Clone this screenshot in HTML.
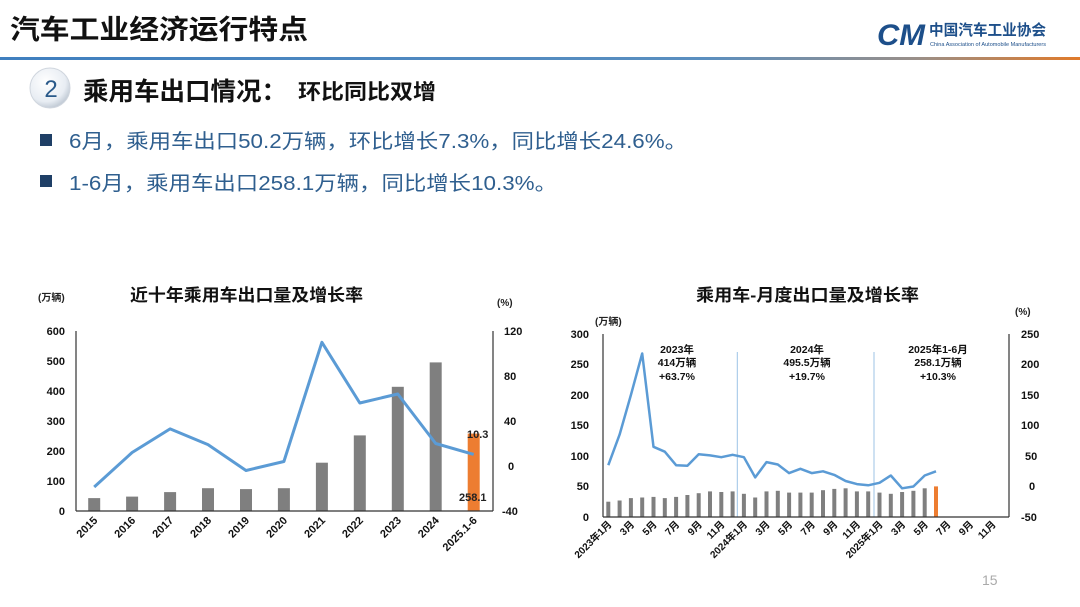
<!DOCTYPE html>
<html><head><meta charset="utf-8"><style>
html,body{margin:0;padding:0;background:#fff;}
svg{display:block;font-family:"Liberation Sans","Noto Sans CJK SC",sans-serif;}
</style></head><body>
<svg width="1080" height="607" viewBox="0 0 1080 607" xmlns="http://www.w3.org/2000/svg">
<defs>
<linearGradient id="hl" x1="0" x2="1" y1="0" y2="0">
<stop offset="0" stop-color="#3f7fbf"/><stop offset="0.65" stop-color="#5a8fc0"/><stop offset="0.85" stop-color="#9a8f88"/><stop offset="1" stop-color="#e07a2a"/></linearGradient>
<radialGradient id="cg" cx="0.4" cy="0.35" r="0.7"><stop offset="0" stop-color="#ffffff"/><stop offset="0.7" stop-color="#e8edf3"/><stop offset="1" stop-color="#b9c3cf"/></radialGradient>
</defs>
<rect width="1080" height="607" fill="#fff"/>
<text x="10" y="39" font-size="27" font-weight="bold" fill="#111" textLength="298" lengthAdjust="spacingAndGlyphs">汽车工业经济运行特点</text>
<text x="877" y="45" font-size="30" font-weight="bold" font-style="italic" fill="#1d4f8a" textLength="48" lengthAdjust="spacingAndGlyphs">CM</text>
<text x="929" y="35" font-size="15" font-weight="bold" fill="#1d4f8a" textLength="117" lengthAdjust="spacingAndGlyphs">中国汽车工业协会</text>
<text x="930" y="46" font-size="5" fill="#1d4f8a" textLength="116" lengthAdjust="spacingAndGlyphs">China Association of Automobile Manufacturers</text>
<rect x="0" y="57" width="1080" height="3" fill="url(#hl)"/>
<circle cx="50" cy="88" r="20" fill="url(#cg)" stroke="#d0d6de" stroke-width="1"/>
<text x="51" y="97" font-size="24" fill="#2a5a8a" text-anchor="middle">2</text>
<text x="83" y="100" font-size="25" font-weight="bold" fill="#111" textLength="204" lengthAdjust="spacingAndGlyphs">乘用车出口情况：</text>
<text x="298" y="99" font-size="21" font-weight="bold" fill="#111" textLength="138" lengthAdjust="spacingAndGlyphs">环比同比双增</text>
<rect x="40" y="134" width="12" height="12" fill="#1f3f66"/>
<text x="69" y="148" font-size="20" fill="#2f5f8f" textLength="618" lengthAdjust="spacingAndGlyphs">6月，乘用车出口50.2万辆，环比增长7.3%，同比增长24.6%。</text>
<rect x="40" y="175" width="12" height="12" fill="#1f3f66"/>
<text x="69" y="190" font-size="20" fill="#2f5f8f" textLength="488" lengthAdjust="spacingAndGlyphs">1-6月，乘用车出口258.1万辆，同比增长10.3%。</text>

<!-- LEFT CHART -->
<text x="130" y="301" font-size="17" font-weight="bold" fill="#111" textLength="233" lengthAdjust="spacingAndGlyphs">近十年乘用车出口量及增长率</text>
<text x="38" y="301" font-size="10" font-weight="bold" fill="#222">(万辆)</text>
<text x="497" y="306" font-size="10" font-weight="bold" fill="#222">(%)</text>
<g font-size="11" font-weight="bold" fill="#111" text-anchor="end">
<text x="65" y="335">600</text><text x="65" y="365">500</text><text x="65" y="395">400</text><text x="65" y="425">300</text><text x="65" y="455">200</text><text x="65" y="485">100</text><text x="65" y="515">0</text>
</g>
<g font-size="11" font-weight="bold" fill="#111" text-anchor="start">
<text x="504" y="335">120</text><text x="504" y="380">80</text><text x="504" y="425">40</text><text x="508" y="470">0</text><text x="502" y="515">-40</text>
</g>
<g fill="#7f7f7f">
<rect x="88.2" y="498.1" width="12" height="12.9"/>
<rect x="126.1" y="496.6" width="12" height="14.4"/>
<rect x="164.1" y="492.1" width="12" height="18.9"/>
<rect x="202" y="488.2" width="12" height="22.8"/>
<rect x="240" y="489.1" width="12" height="21.9"/>
<rect x="277.9" y="488.2" width="12" height="22.8"/>
<rect x="315.9" y="462.7" width="12" height="48.3"/>
<rect x="353.8" y="435.4" width="12" height="75.6"/>
<rect x="391.8" y="386.8" width="12" height="124.2"/>
<rect x="429.7" y="362.4" width="12" height="148.6"/>
</g>
<rect x="467.7" y="433.6" width="12" height="77.4" fill="#ed7d31"/>
<line x1="76" y1="331" x2="76" y2="511" stroke="#333" stroke-width="1.2"/>
<line x1="493" y1="331" x2="493" y2="511" stroke="#333" stroke-width="1.2"/>
<line x1="76" y1="511" x2="493" y2="511" stroke="#333" stroke-width="1.2"/>
<polyline fill="none" stroke="#5b9bd5" stroke-width="3" stroke-linejoin="round" points="94.2,487 132.1,452.5 170.1,428.9 208,444.6 246,470.5 283.9,461.5 321.9,342.3 359.8,403 397.8,394 435.7,443.5 473.7,454.4"/>
<text x="467" y="438" font-size="11" font-weight="bold" fill="#222">10.3</text>
<text x="459" y="501" font-size="11" font-weight="bold" fill="#222">258.1</text>
<g font-size="11" font-weight="bold" fill="#111" text-anchor="end">
<text transform="translate(98.2,521) rotate(-45)">2015</text>
<text transform="translate(136.1,521) rotate(-45)">2016</text>
<text transform="translate(174.1,521) rotate(-45)">2017</text>
<text transform="translate(212,521) rotate(-45)">2018</text>
<text transform="translate(250,521) rotate(-45)">2019</text>
<text transform="translate(287.9,521) rotate(-45)">2020</text>
<text transform="translate(325.9,521) rotate(-45)">2021</text>
<text transform="translate(363.8,521) rotate(-45)">2022</text>
<text transform="translate(401.8,521) rotate(-45)">2023</text>
<text transform="translate(439.7,521) rotate(-45)">2024</text>
<text transform="translate(477.7,521) rotate(-45)">2025.1-6</text>
</g>

<!-- RIGHT CHART -->
<text x="696" y="301" font-size="17" font-weight="bold" fill="#111" textLength="223" lengthAdjust="spacingAndGlyphs">乘用车-月度出口量及增长率</text>
<text x="595" y="325" font-size="10" font-weight="bold" fill="#222">(万辆)</text>
<text x="1015" y="315" font-size="10" font-weight="bold" fill="#222">(%)</text>
<g font-size="11" font-weight="bold" fill="#111" text-anchor="end">
<text x="589" y="338">300</text><text x="589" y="368">250</text><text x="589" y="399">200</text><text x="589" y="429">150</text><text x="589" y="460">100</text><text x="589" y="490">50</text><text x="589" y="521">0</text>
</g>
<g font-size="11" font-weight="bold" fill="#111" text-anchor="start">
<text x="1021" y="338">250</text><text x="1021" y="368">200</text><text x="1021" y="399">150</text><text x="1021" y="429">100</text><text x="1025" y="460">50</text><text x="1029" y="490">0</text><text x="1021" y="521">-50</text>
</g>
<line x1="737.3" y1="352" x2="737.3" y2="517" stroke="#9dc3e6" stroke-width="1"/>
<line x1="874" y1="352" x2="874" y2="517" stroke="#9dc3e6" stroke-width="1"/>
<g fill="#7f7f7f">
<rect x="606.3" y="501.7" width="4" height="15.3"/>
<rect x="617.6" y="500.5" width="4" height="16.5"/>
<rect x="628.9" y="498.1" width="4" height="18.9"/>
<rect x="640.2" y="497.5" width="4" height="19.5"/>
<rect x="651.5" y="496.9" width="4" height="20.1"/>
<rect x="662.8" y="498.1" width="4" height="18.9"/>
<rect x="674.1" y="496.9" width="4" height="20.1"/>
<rect x="685.4" y="495" width="4" height="22"/>
<rect x="696.7" y="493.2" width="4" height="23.8"/>
<rect x="708" y="491.4" width="4" height="25.6"/>
<rect x="719.3" y="492" width="4" height="25"/>
<rect x="730.6" y="491.4" width="4" height="25.6"/>
<rect x="741.9" y="493.8" width="4" height="23.2"/>
<rect x="753.2" y="497.5" width="4" height="19.5"/>
<rect x="764.5" y="491.4" width="4" height="25.6"/>
<rect x="775.8" y="490.8" width="4" height="26.2"/>
<rect x="787.1" y="492.6" width="4" height="24.4"/>
<rect x="798.4" y="492.6" width="4" height="24.4"/>
<rect x="809.7" y="492.6" width="4" height="24.4"/>
<rect x="821" y="490.2" width="4" height="26.8"/>
<rect x="832.3" y="488.9" width="4" height="28.1"/>
<rect x="843.6" y="488.3" width="4" height="28.7"/>
<rect x="854.9" y="491.4" width="4" height="25.6"/>
<rect x="866.2" y="491.4" width="4" height="25.6"/>
<rect x="877.5" y="492.6" width="4" height="24.4"/>
<rect x="888.8" y="493.8" width="4" height="23.2"/>
<rect x="900.1" y="492" width="4" height="25"/>
<rect x="911.4" y="490.8" width="4" height="26.2"/>
<rect x="922.7" y="488.3" width="4" height="28.7"/>
</g>
<rect x="934" y="486.4" width="4" height="30.6" fill="#ed7d31"/>
<line x1="603" y1="334" x2="603" y2="517" stroke="#333" stroke-width="1.2"/>
<line x1="1009" y1="334" x2="1009" y2="517" stroke="#333" stroke-width="1.2"/>
<line x1="603" y1="517" x2="1009" y2="517" stroke="#333" stroke-width="1.2"/>
<polyline fill="none" stroke="#5b9bd5" stroke-width="2.5" stroke-linejoin="round" points="608.3,465.2 619.6,434.6 630.9,395 642.2,353.5 653.5,446.8 664.8,451.7 676.1,465.2 687.4,465.8 698.7,454.2 710,455.4 721.3,457.2 732.6,454.8 743.9,457.2 755.2,477.4 766.5,462.1 777.8,464.5 789.1,473.1 800.4,468.8 811.7,473.1 823,471.3 834.3,474.9 845.6,481 856.9,484.1 868.2,485.3 879.5,482.8 890.8,475.5 902.1,488.3 913.4,486.5 924.7,475.5 936,471.3"/>
<g font-size="10.5" font-weight="bold" fill="#111" text-anchor="middle">
<text x="677" y="353">2023年</text><text x="677" y="366">414万辆</text><text x="677" y="380">+63.7%</text>
<text x="807" y="353">2024年</text><text x="807" y="366">495.5万辆</text><text x="807" y="380">+19.7%</text>
<text x="938" y="353">2025年1-6月</text><text x="938" y="366">258.1万辆</text><text x="938" y="380">+10.3%</text>
</g>
<g font-size="10" font-weight="bold" fill="#111" text-anchor="end">
<text transform="translate(612.3,525) rotate(-45)">2023年1月</text>
<text transform="translate(634.9,525) rotate(-45)">3月</text>
<text transform="translate(657.5,525) rotate(-45)">5月</text>
<text transform="translate(680.1,525) rotate(-45)">7月</text>
<text transform="translate(702.7,525) rotate(-45)">9月</text>
<text transform="translate(725.3,525) rotate(-45)">11月</text>
<text transform="translate(747.9,525) rotate(-45)">2024年1月</text>
<text transform="translate(770.5,525) rotate(-45)">3月</text>
<text transform="translate(793.1,525) rotate(-45)">5月</text>
<text transform="translate(815.7,525) rotate(-45)">7月</text>
<text transform="translate(838.3,525) rotate(-45)">9月</text>
<text transform="translate(860.9,525) rotate(-45)">11月</text>
<text transform="translate(883.5,525) rotate(-45)">2025年1月</text>
<text transform="translate(906.1,525) rotate(-45)">3月</text>
<text transform="translate(928.7,525) rotate(-45)">5月</text>
<text transform="translate(951.3,525) rotate(-45)">7月</text>
<text transform="translate(973.9,525) rotate(-45)">9月</text>
<text transform="translate(996.5,525) rotate(-45)">11月</text>
</g>
<text x="982" y="585" font-size="14" fill="#aaa">15</text>
</svg>
</body></html>
